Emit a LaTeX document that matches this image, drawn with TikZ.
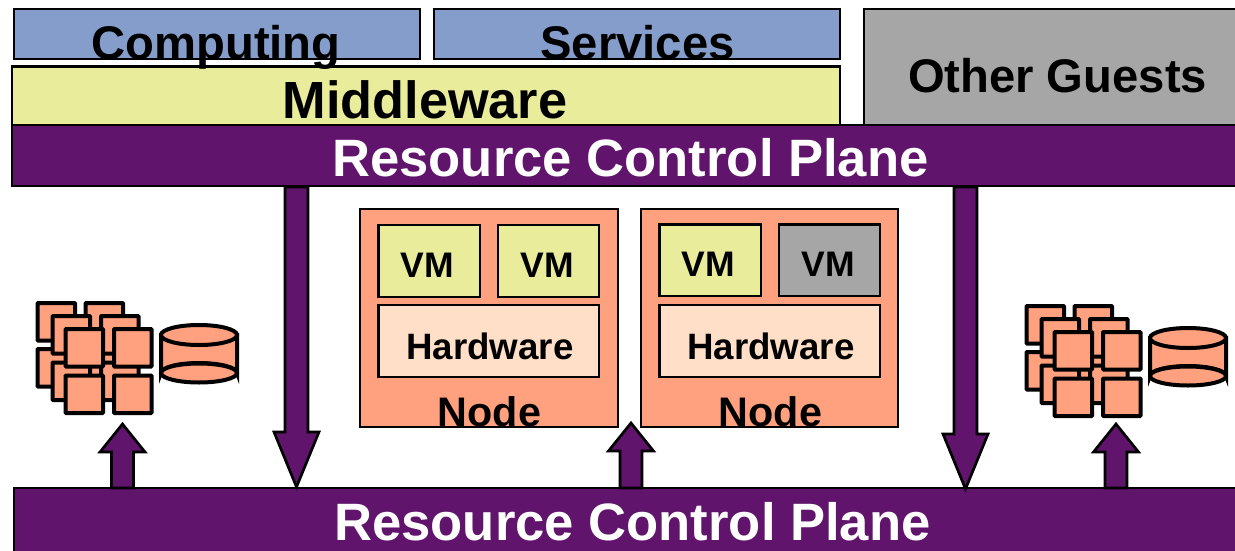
\documentclass[tikz,border=0pt]{standalone}
\usepackage{fontspec}
\usetikzlibrary{calc}
\setmainfont{Liberation Sans}
\definecolor{rcpurple}{HTML}{60146C}
\definecolor{salmon}{HTML}{FFA07F}
\definecolor{peach}{HTML}{FFDFC8}
\definecolor{paleyellow}{HTML}{E9EC9B}
\definecolor{steelblue}{HTML}{849DCB}
\definecolor{midgrey}{HTML}{A6A6A6}
\newcommand{\pxfont}[1]{\fontsize{\the\dimexpr #1pt*3/4\relax}{\the\dimexpr #1pt\relax}\selectfont}
\newcommand{\rectnode}[6]{% name, style, x1,y1,x2,y2
  \pgfmathsetmacro{\rw}{(#5-#3)*0.75}\pgfmathsetmacro{\rh}{(#6-#4)*0.75}
  \node[#2,minimum width=\rw pt,minimum height=\rh pt] (#1) at ({(#3+#5)/2},{(#4+#6)/2}) {};}
\newcommand{\cube}[3]{% name, x, y
  \rectnode{#1}{cubebox}{#2}{#3}{#2+37.5}{#3+37.5}}
\newcommand{\cluster}[3]{% prefix, dx, dy
  \begin{scope}[shift={(#2,#3)}]
  \cube{#1a}{37.5}{303}\cube{#1b}{85.5}{303}\cube{#1c}{37.5}{349}\cube{#1d}{85.5}{349}
  \cube{#1e}{52.5}{316}\cube{#1f}{101}{316}\cube{#1g}{52.5}{362.5}\cube{#1h}{101}{362.5}
  \cube{#1i}{65.5}{329}\cube{#1j}{114}{329}\cube{#1k}{65.5}{375.5}\cube{#1l}{114}{375.5}
  \path[storage] (161,335) -- (161,373) arc[start angle=180,end angle=360,x radius=38,y radius=10] -- (237,335) -- cycle;
  \path[storage] (199,373) ellipse[x radius=38,y radius=9.5];
  \path[storage] (199,335) ellipse[x radius=38,y radius=10];
  \end{scope}}
\newcommand{\arrowdown}[2]{% start, tip
  \path[blockarrow] ($(#1)+(-11.5,0)$) -- ($(#1)+(11.5,0)$) -- ($(#2)+(11.5,-55)$) -- ($(#2)+(22.5,-55)$) -- (#2) -- ($(#2)+(-22.5,-55)$) -- ($(#2)+(-11.5,-55)$) -- cycle;}
\newcommand{\arrowup}[2]{% start, tip
  \path[blockarrow] ($(#1)+(-11,0)$) -- ($(#1)+(11,0)$) -- ($(#2)+(11,28)$) -- ($(#2)+(22.5,28)$) -- (#2) -- ($(#2)+(-22.5,28)$) -- ($(#2)+(-11,28)$) -- cycle;}
\tikzset{
  plainbox/.style={draw=black,line width=1.9pt,inner sep=0pt,outer sep=0pt},
  bluebox/.style={plainbox,fill=steelblue},
  yellowbox/.style={plainbox,fill=paleyellow},
  innerbox/.style={plainbox,line width=2.05pt},
  greybox/.style={plainbox,fill=midgrey,draw=none},
  purplebox/.style={plainbox,fill=rcpurple},
  nodebox/.style={plainbox,fill=salmon},
  hwbox/.style={innerbox,fill=peach},
  vmyellow/.style={innerbox,fill=paleyellow},
  vmgrey/.style={innerbox,fill=midgrey},
  cubebox/.style={draw=black,line width=3pt,fill=salmon,rounded corners=0.5pt,inner sep=0pt,outer sep=0pt},
  storage/.style={draw=black,line width=3pt,fill=salmon},
  blockarrow/.style={draw=black,line width=2pt,fill=rcpurple,line join=miter},
  lbl/.style={anchor=base,inner sep=0pt,font=\bfseries},
}
\begin{document}
\begin{tikzpicture}[x=0.75pt,y=-0.75pt]
\useasboundingbox (0,0) rectangle (1235,550);
\fill[white] (0,0) rectangle (1235,550);
% top layers
\rectnode{computing}{bluebox}{14}{9}{420}{59}
\rectnode{services}{bluebox}{434}{9}{840}{59}
\rectnode{other}{greybox}{864}{9}{1245}{126}
\path[draw=black,line width=1.9pt] (1240,9) -- (864,9) -- (864,125);
\rectnode{middleware}{yellowbox}{12}{66.5}{840}{125}
\rectnode{rcptop}{purplebox}{12}{125}{1245}{186}
\rectnode{rcpbottom}{purplebox}{14}{488}{1245}{560}
% nodes
\rectnode{nodeA}{nodebox}{360}{209}{618}{427}
\rectnode{vmA}{vmyellow}{378.5}{225}{480}{297}
\rectnode{vmB}{vmyellow}{498}{225}{599}{297}
\rectnode{hwA}{hwbox}{378.5}{305}{599}{377}
\rectnode{nodeB}{nodebox}{641}{209}{898}{427}
\rectnode{vmC}{vmyellow}{659.5}{224.5}{761}{296}
\rectnode{vmD}{vmgrey}{779}{224.5}{880}{296}
\rectnode{hwB}{hwbox}{659.5}{305}{880}{377}
% clusters
\cluster{cl}{0}{0}
\cluster{cr}{989}{3}
% arrows
\coordinate (d1s) at (296.5,187);
\coordinate (d1t) at (296.5,487);
\coordinate (d2s) at (965.5,187);
\coordinate (d2t) at (965.5,489);
\coordinate (u1s) at (122.5,488);
\coordinate (u1t) at (122.5,424);
\coordinate (u2s) at (631,488);
\coordinate (u2t) at (631,423);
\coordinate (u3s) at (1116,488);
\coordinate (u3t) at (1116,424);
\arrowdown{d1s}{d1t}
\arrowdown{d2s}{d2t}
\arrowup{u1s}{u1t}
\arrowup{u2s}{u2t}
\arrowup{u3s}{u3t}
% texts
\node[lbl,font=\bfseries\pxfont{47.2}] (tcomputing) at (216,59) {Computing};
\node[lbl,font=\bfseries\pxfont{47.2}] (tservices) at (637.5,59) {Services};
\node[lbl,font=\bfseries\pxfont{47.2}] (tother) at (1057.5,92) {Other Guests};
\node[lbl,font=\bfseries\pxfont{52.3}] (tmiddle) at (425,118) {Middleware};
\node[lbl,text=white,font=\bfseries\pxfont{52.6}] (trcp1) at (630.5,176) {Resource Control Plane};
\node[lbl,text=white,font=\bfseries\pxfont{52.6}] (trcp2) at (632.5,540) {Resource Control Plane};
\node[lbl,font=\bfseries\pxfont{35.5}] (tvmA) at (427.5,277) {VM};
\node[lbl,font=\bfseries\pxfont{35.5}] (tvmB) at (547,277) {VM};
\node[lbl,font=\bfseries\pxfont{35.5}] (tvmC) at (708.5,276) {VM};
\node[lbl,font=\bfseries\pxfont{35.5}] (tvmD) at (828,276) {VM};
\node[lbl,font=\bfseries\pxfont{36.7}] (thwA) at (490,359.5) {Hardware};
\node[lbl,font=\bfseries\pxfont{36.7}] (thwB) at (771,359.5) {Hardware};
\node[lbl,font=\bfseries\pxfont{41.3}] (tnodeA) at (489.5,426) {Node};
\node[lbl,font=\bfseries\pxfont{41.3}] (tnodeB) at (770.5,426) {Node};
\end{tikzpicture}
\end{document}
